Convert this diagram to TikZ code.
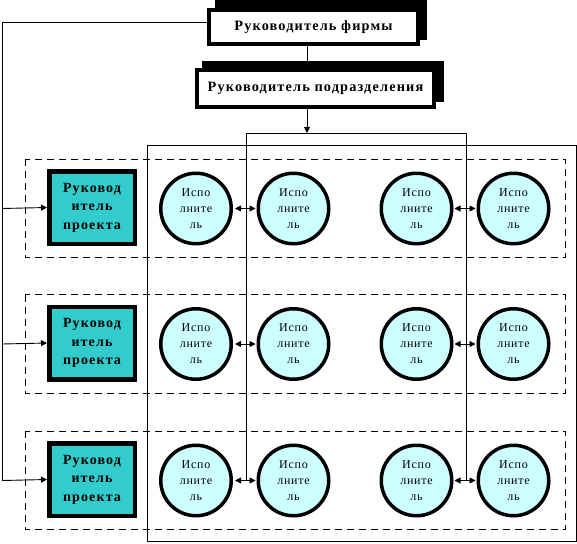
\documentclass[tikz,border=0pt]{standalone}
\usepackage{fontspec}
\setmainfont{Liberation Serif}
\newfontfamily\boxfont{Liberation Serif}[LetterSpace=8]
\newfontfamily\circfont{Liberation Serif}[LetterSpace=6]
\usetikzlibrary{arrows.meta}
\definecolor{tealfill}{HTML}{33CCCC}
\definecolor{cyanfill}{HTML}{CCFFFF}
\begin{document}
\begin{tikzpicture}[x=1pt,y=-1pt,
  bossbox/.style={draw, line width=4pt, fill=white, inner sep=0pt,
    font=\boxfont\bfseries\fontsize{14.3}{17}\selectfont},
  pmbox/.style={draw, line width=4.5pt, fill=tealfill, minimum width=85.5pt,
    minimum height=72.5pt, inner sep=0pt, align=center,
    font=\boxfont\bfseries\fontsize{14}{18.5}\selectfont},
  worker/.style={circle, draw, line width=3.5pt, fill=cyanfill, minimum size=70.5pt,
    inner sep=0pt, align=center, font=\circfont\fontsize{12}{16}\selectfont},
  rowframe/.style={draw, dash pattern=on 7pt off 5pt, line width=0.9pt},
  link/.style={line width=0.9pt},
  tip/.style={-{Triangle[length=6pt,width=6pt]}}]
\useasboundingbox (0,0) rectangle (577,543);
% shadows
\fill (215,0) rectangle (427,40);
\fill (202,61) rectangle (444,102);
\node[bossbox, minimum width=209pt, minimum height=34pt] (top) at (313.5,27) {Руководитель фирмы};
\node[bossbox, minimum width=237pt, minimum height=37pt] (sub) at (315.5,88.5) {Руководитель подразделения};
\coordinate (vx) at (307,0);
\coordinate (L) at (2,22);
\coordinate (H1) at (246,133);
\coordinate (H2) at (466,133);
% big frame
\draw[link] (147,145) rectangle (576,541);
% row frames, managers and workers
\foreach \r/\y in {1/208.5,2/344,3/480.5}{
  \draw[rowframe] (25,\y-49.5) rectangle (565,\y+49);
  \node[pmbox] (pm\r) at (92,\y-1) {Руковод\\итель\\проекта};
  \node[worker] (w\r a) at (196,\y) {Испо\\лните\\ль};
  \node[worker] (w\r b) at (293.5,\y) {Испо\\лните\\ль};
  \node[worker] (w\r c) at (416.5,\y) {Испо\\лните\\ль};
  \node[worker] (w\r d) at (513.5,\y) {Испо\\лните\\ль};
  \draw[link,tip] (H1 |- w\r a) -- ([xshift=2pt]w\r a.east);
  \draw[link,tip] (H1 |- w\r a) -- ([xshift=-1pt]w\r b.west);
  \draw[link,tip] (H2 |- w\r c) -- ([xshift=1pt]w\r c.east);
  \draw[link,tip] (H2 |- w\r c) -- ([xshift=-1pt]w\r d.west);
  \draw[link,tip] (L |- w\r a) -- (pm\r.west);
}
% connectors
\draw[link] (top.south -| vx) -- (sub.north -| vx);
\draw[link,tip] (sub.south -| vx) -- (vx |- H1);
\draw[link] (H1 |- w3a) -- (H1) -- (H2) -- (H2 |- w3c);
\draw[link] (top.west |- L) -- (L) -- (L |- w3a);
\end{tikzpicture}
\end{document}
